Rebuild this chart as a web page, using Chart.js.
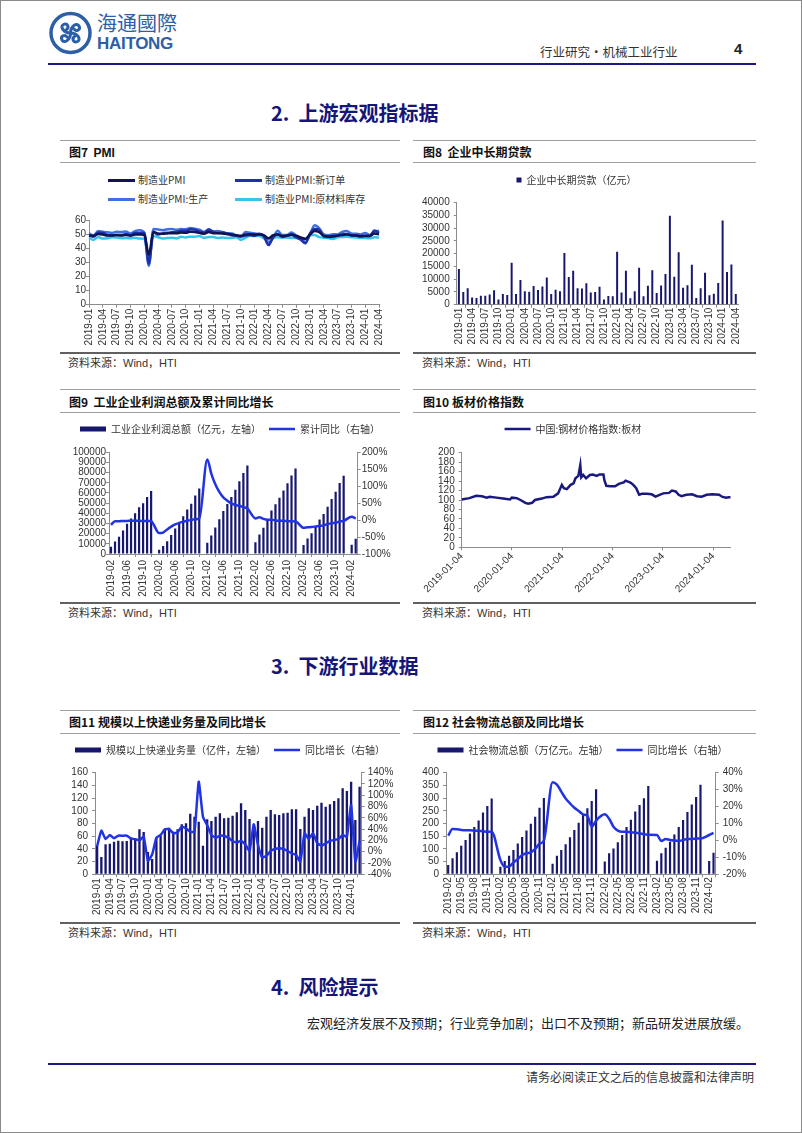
<!DOCTYPE html>
<html>
<head>
<meta charset="utf-8">
<title>行业研究·机械工业行业</title>
<script src="https://cdn.jsdelivr.net/npm/chart.js@4.4.1/dist/chart.umd.min.js"></script>
<style>
  body { margin: 0; background: #fff; }
  #page { position: relative; width: 802px; height: 1133px; overflow: hidden; background: #fff;
          font-family: "Noto Sans CJK SC", sans-serif; color: #222; }
  #frame { position: absolute; left: 0; top: 0; right: 0; bottom: 0; border: 1px solid #8a8a8a; pointer-events: none; }
  .a { position: absolute; white-space: nowrap; }
  .rule { position: absolute; }
  canvas { position: absolute; }
  .sec { font-size: 20px; font-weight: bold; color: #15157a; height: 24px; line-height: 24px; }
  .ttl { font-size: 12px; font-weight: bold; color: #111; height: 16px; line-height: 16px; }
  .ttl b { font-family: "Liberation Sans", Arial, sans-serif; }
  .src { font-size: 11px; color: #333; height: 14px; line-height: 14px; }
  .src span { font-family: "Liberation Sans", Arial, sans-serif; }
  .lg { font-size: 10px; color: #333; height: 12px; line-height: 12px; }
  .mk { position: absolute; height: 3px; }
</style>
</head>
<body>
<div id="page">

  <!-- header -->
  <svg class="a" style="left:48px;top:11px" width="45" height="44" viewBox="0 0 45 44">
    <circle cx="22.5" cy="22" r="19.5" fill="none" stroke="#2d5fa6" stroke-width="3.5"/>
    <g fill="none" stroke="#2d5fa6" stroke-width="3" stroke-linecap="round">
      <path d="M22.5 22 C22.5 15 29 11 31 15 C33 19 28 21 26 18"/>
      <path d="M22.5 22 C22.5 15 29 11 31 15 C33 19 28 21 26 18" transform="rotate(90 22.5 22)"/>
      <path d="M22.5 22 C22.5 15 29 11 31 15 C33 19 28 21 26 18" transform="rotate(180 22.5 22)"/>
      <path d="M22.5 22 C22.5 15 29 11 31 15 C33 19 28 21 26 18" transform="rotate(270 22.5 22)"/>
    </g>
  </svg>
  <div class="a" style="left:97px;top:11px;font-size:20px;line-height:24px;color:#2d5fa6;">海通國際</div>
  <div class="a" style="left:97px;top:34px;font:bold 17px/20px 'Liberation Sans',Arial,sans-serif;color:#2d5fa6;letter-spacing:-0.3px;">HAITONG</div>
  <div class="a" style="left:540px;top:44px;font-size:12.5px;line-height:16px;color:#333;">行业研究•机械工业行业</div>
  <div class="a" style="left:734px;top:40px;font:bold 15px/18px 'Liberation Sans',Arial,sans-serif;color:#222;">4</div>
  <div class="rule" style="left:48px;top:63px;width:708px;height:2px;background:#1c1c80;"></div>

  <div class="a sec" style="left:271px;top:101px;">2.&nbsp; 上游宏观指标据</div>

  <!-- row 1 frames -->
  <div class="rule" style="left:60px;top:140px;width:340px;height:1px;background:#a0a0a0;"></div>
  <div class="rule" style="left:413px;top:140px;width:343px;height:1px;background:#a0a0a0;"></div>
  <div class="a ttl" style="left:69px;top:144px;">图7&nbsp;&nbsp;<b>PMI</b></div>
  <div class="a ttl" style="left:423px;top:144px;">图8&nbsp;&nbsp;企业中长期贷款</div>
  <div class="rule" style="left:60px;top:162px;width:340px;height:1px;background:#a0a0a0;"></div>
  <div class="rule" style="left:413px;top:162px;width:343px;height:1px;background:#a0a0a0;"></div>
  <div class="rule" style="left:60px;top:352px;width:340px;height:2px;background:#606060;"></div>
  <div class="rule" style="left:413px;top:352px;width:343px;height:2px;background:#606060;"></div>
  <div class="a src" style="left:68px;top:355px;">资料来源：<span>Wind</span>，<span>HTI</span></div>
  <div class="a src" style="left:422px;top:355px;">资料来源：<span>Wind</span>，<span>HTI</span></div>

  <!-- PMI legend (two columns) -->
  <div class="mk" style="left:108px;top:178.5px;width:27px;background:#131352;"></div>
  <div class="a lg" style="left:138px;top:174px;">制造业PMI</div>
  <div class="mk" style="left:235px;top:178.5px;width:27px;background:#1f31a8;"></div>
  <div class="a lg" style="left:265px;top:174px;">制造业PMI:新订单</div>
  <div class="mk" style="left:108px;top:197.5px;width:27px;background:#3f6fe4;"></div>
  <div class="a lg" style="left:138px;top:193px;">制造业PMI:生产</div>
  <div class="mk" style="left:235px;top:197.5px;width:27px;background:#35c6ee;"></div>
  <div class="a lg" style="left:265px;top:193px;">制造业PMI:原材料库存</div>

  <canvas id="c7" width="330" height="184" style="left:62px;top:168px;"></canvas>
  <canvas id="c8" width="335" height="184" style="left:415px;top:168px;"></canvas>

  <!-- row 2 frames -->
  <div class="rule" style="left:60px;top:389px;width:340px;height:1px;background:#a0a0a0;"></div>
  <div class="rule" style="left:413px;top:389px;width:343px;height:1px;background:#a0a0a0;"></div>
  <div class="a ttl" style="left:69px;top:394px;">图9&nbsp;&nbsp;工业企业利润总额及累计同比增长</div>
  <div class="a ttl" style="left:423px;top:394px;">图10 板材价格指数</div>
  <div class="rule" style="left:60px;top:412px;width:340px;height:1px;background:#a0a0a0;"></div>
  <div class="rule" style="left:413px;top:412px;width:343px;height:1px;background:#a0a0a0;"></div>
  <div class="rule" style="left:60px;top:602px;width:340px;height:2px;background:#606060;"></div>
  <div class="rule" style="left:413px;top:602px;width:343px;height:2px;background:#606060;"></div>
  <div class="a src" style="left:68px;top:605px;">资料来源：<span>Wind</span>，<span>HTI</span></div>
  <div class="a src" style="left:422px;top:605px;">资料来源：<span>Wind</span>，<span>HTI</span></div>

  <canvas id="c9" width="336" height="184" style="left:62px;top:416px;"></canvas>
  <canvas id="c10" width="335" height="184" style="left:415px;top:416px;"></canvas>

  <div class="a sec" style="left:271px;top:654px;">3.&nbsp; 下游行业数据</div>

  <!-- row 3 frames -->
  <div class="rule" style="left:60px;top:710px;width:340px;height:1px;background:#a0a0a0;"></div>
  <div class="rule" style="left:413px;top:710px;width:343px;height:1px;background:#a0a0a0;"></div>
  <div class="a ttl" style="left:69px;top:714px;">图11 规模以上快递业务量及同比增长</div>
  <div class="a ttl" style="left:423px;top:714px;">图12 社会物流总额及同比增长</div>
  <div class="rule" style="left:60px;top:733px;width:340px;height:1px;background:#a0a0a0;"></div>
  <div class="rule" style="left:413px;top:733px;width:343px;height:1px;background:#a0a0a0;"></div>
  <div class="rule" style="left:60px;top:922px;width:340px;height:2px;background:#606060;"></div>
  <div class="rule" style="left:413px;top:922px;width:343px;height:2px;background:#606060;"></div>
  <div class="a src" style="left:68px;top:925px;">资料来源：<span>Wind</span>，<span>HTI</span></div>
  <div class="a src" style="left:422px;top:925px;">资料来源：<span>Wind</span>，<span>HTI</span></div>

  <canvas id="c11" width="336" height="183" style="left:62px;top:737px;"></canvas>
  <canvas id="c12" width="335" height="183" style="left:415px;top:737px;"></canvas>

  <div class="a sec" style="left:271px;top:975px;">4.&nbsp; 风险提示</div>
  <div class="a" style="right:53px;top:1014px;font-size:13px;line-height:18px;color:#222;">宏观经济发展不及预期；行业竞争加剧；出口不及预期；新品研发进展放缓。</div>

  <div class="rule" style="left:48px;top:1063px;width:708px;height:2px;background:#1c1c80;"></div>
  <div class="a" style="right:48px;top:1069px;font-size:12px;line-height:16px;color:#333;">请务必阅读正文之后的信息披露和法律声明</div>

  <div id="frame"></div>
</div>

<script>
// month labels like 2019-01
function months(y, m, n) {
  const out = [];
  for (let i = 0; i < n; i++) {
    const t = y * 12 + (m - 1) + i;
    out.push(Math.floor(t / 12) + "-" + String(t % 12 + 1).padStart(2, "0"));
  }
  return out;
}

// 图7 PMI
const pmiMonths = months(2019, 1, 64);
const pmi = [49.5,49.2,50.5,50.1,49.4,49.4,49.7,49.5,49.8,49.3,50.2,50.2,
  50.0,35.7,52.0,50.8,50.6,50.9,51.1,51.0,51.5,51.4,52.1,51.9,
  51.3,50.6,51.9,51.1,51.0,50.9,50.4,50.1,49.6,49.2,50.1,50.3,
  50.1,50.2,49.5,47.4,49.6,50.2,49.0,49.4,50.1,49.2,48.0,47.0,
  50.1,52.6,51.9,49.2,48.8,49.0,49.3,49.7,50.2,49.5,49.4,49.0,
  49.2,49.1,50.8,50.4];
const pmiNewOrders = [49.6,48.6,51.6,51.4,49.8,49.6,49.8,49.7,50.5,49.6,51.3,51.2,
  51.4,29.3,52.0,50.2,50.9,51.4,51.7,52.0,52.8,52.8,53.9,53.6,
  52.3,51.5,53.6,52.0,51.3,51.5,50.9,49.6,49.3,48.8,49.4,49.7,
  49.3,50.7,48.8,42.6,48.2,50.4,48.5,49.2,49.8,48.1,46.4,43.9,
  50.9,54.1,53.6,48.8,48.3,48.6,49.5,50.2,50.5,49.5,49.4,48.7,
  49.0,49.0,53.0,51.1];
const pmiProduction = [50.9,49.5,52.7,52.1,51.7,51.3,52.1,51.9,52.3,50.8,52.6,53.2,
  51.3,27.8,54.1,53.7,53.2,53.9,54.0,53.5,54.0,53.9,54.7,54.2,
  53.5,51.9,53.9,52.2,52.7,51.9,51.0,50.9,49.5,48.4,52.0,51.4,
  50.9,50.4,49.5,44.4,47.7,52.8,49.8,49.8,51.5,49.6,47.8,44.6,
  49.8,56.7,54.6,50.2,49.6,50.3,50.2,51.9,52.7,50.9,50.7,50.2,
  51.3,49.8,52.2,52.9];
const pmiInventory = [48.1,46.3,48.4,47.2,47.4,48.2,48.0,47.5,47.6,47.4,47.8,47.2,
  47.1,32.9,49.0,48.2,47.3,47.6,47.9,47.3,48.5,48.0,48.6,48.6,
  49.0,47.7,48.4,48.3,47.7,48.0,47.7,47.7,48.2,46.3,47.7,49.2,
  49.1,49.1,47.3,46.5,47.9,48.1,47.9,48.0,47.6,47.7,46.7,47.1,
  49.6,49.8,48.3,47.9,47.6,47.0,48.2,48.4,48.5,48.2,48.0,47.7,
  47.6,47.4,48.1,47.8];

// 图8 企业中长期贷款（亿元）
const loanMonths = months(2019, 1, 64);
const loans = [14000,5000,6500,2800,2600,3500,3500,4000,5700,2000,4200,3800,
  16500,4200,9700,5300,5100,7300,5800,7100,10700,4200,5900,5300,
  20300,10900,13300,6500,6400,8400,4800,5000,7000,2000,3400,3300,
  20800,4800,13300,2500,5300,14500,3300,7400,13500,4600,7500,12000,
  34900,11000,20600,6600,7600,15700,2600,6500,12500,3700,4300,8500,
  33000,12800,15800,4200];

// 图9 工业企业利润总额（亿元）与累计同比（%）
const profitMonths = months(2019, 2, 62);
const profits = [7080,12185,16900,23000,29840,34835,40140,45933,50020,56100,61996,
  null,4107,7814,12654,18737,25115,31022,37168,43665,49522,57445,64516,
  null,11140,18253,25944,34247,42183,49239,56051,63190,71649,79750,87092,
  null,11575,19143,25750,34410,42703,48930,55254,62442,69469,77180,84039,
  null,8872,15167,20328,26688,33884,39439,46558,54119,61154,69822,76858,
  null,9141,15056];
const profitYoy = [-14.0,-3.3,-3.4,-2.3,-2.4,-1.7,-1.7,-2.1,-2.9,-2.1,-3.3,
  null,-38.3,-36.7,-27.4,-19.3,-12.8,-8.1,-4.4,-2.4,0.7,2.4,4.1,
  null,178.9,137.3,106.0,83.4,66.9,57.3,49.5,44.7,42.2,38.0,34.3,
  null,5.0,8.5,3.5,1.0,1.0,-1.1,-2.1,-2.3,-3.0,-3.6,-4.0,
  null,-22.9,-21.4,-20.6,-18.8,-16.8,-15.5,-11.7,-9.0,-7.8,-4.4,-2.3,
  null,10.2,4.3];

// 图10 中国:钢材价格指数:板材
const steelDates = ["2019-01-04","2019-03-01","2019-04-19","2019-05-31","2019-07-05","2019-07-26","2019-09-13","2019-11-01","2019-12-20",
  "2020-01-03","2020-02-07","2020-03-06","2020-04-10","2020-05-01","2020-05-29","2020-06-19","2020-08-07","2020-09-11","2020-10-30","2020-12-04","2020-12-31",
  "2021-01-15","2021-02-05","2021-03-05","2021-03-26","2021-04-09","2021-04-30","2021-05-14","2021-05-21","2021-06-04","2021-06-25","2021-07-23","2021-08-13",
  "2021-09-10","2021-10-01","2021-10-29","2021-11-05","2021-11-19","2021-12-17",
  "2022-01-21","2022-02-18","2022-03-25","2022-04-08","2022-05-13","2022-06-03","2022-06-24","2022-07-15","2022-08-05","2022-09-09","2022-10-14","2022-11-11","2022-12-02",
  "2023-01-06","2023-02-17","2023-03-10","2023-04-07","2023-04-28","2023-05-19","2023-06-23","2023-08-04","2023-09-08","2023-10-13","2023-11-17","2023-12-29",
  "2024-02-16","2024-03-08","2024-04-05","2024-04-26","2024-05-10"];
const steelIndex = [101,104,109,108,105,107,105,103,101,
  105,104,100,94,92,94,100,103,106,107,114,132,
  125,123,132,135,146,151,174,148,153,146,153,154,
  151,154,154,142,130,129,
  129,134,137,141,137,132,125,111,113,113,112,107,110,
  114,115,120,118,111,108,111,112,108,107,111,112,
  111,107,105,106,106];
const steelTicks = ["2019-01-04","2020-01-04","2021-01-04","2022-01-04","2023-01-04","2024-01-04"];

// 图11 规模以上快递业务量（亿件）与同比（%）
const expressMonths = months(2019, 1, 63);
const express = [44.6,27.3,47.2,48.3,51.4,53,52,52.5,55.6,55,70.8,66.6,
  35,24,57.7,60.9,71.4,73.5,67.2,70.8,78.7,80.3,95.5,90.8,
  82.9,45.1,86.6,84,90.8,96,88.1,89.2,92.3,97.6,111.8,101.3,
  87.1,78.7,84,73.5,90.8,101.3,94.4,93.4,96,97,102.3,102.3,
  71.4,90.8,103.9,101.3,108.1,112.8,106.5,110.2,115.4,119.6,135.4,131.2,
  145.9,85.5,138];
const expressYoy = [10,37.3,22.5,29.6,23.7,28.4,28.4,28.4,23.7,22,20.2,26.7,
  -16,-5,24.9,29.6,39.6,40.2,32.6,34.3,44.4,41.4,35.5,35.5,
  124,62,47,29.6,25,28.4,27.8,24.9,19,16.6,19,13,
  1.3,48.5,12,-10.5,-7,1.3,4.8,6,4.8,1.3,-2.9,-5.8,
  -17.6,32.6,22.5,32.6,15,10.7,15,19,20.8,22.5,29.6,26.7,
  82.7,-17.6,19];

// 图12 社会物流总额（万亿元）与同比（%）
const logisticsMonths = months(2019, 2, 62);
const logistics = [37,63,87,112,135,161,186,212,243,269,298,
  null,30,52.5,73.5,96,121,147,172,199,227,262,300,
  null,42,73.5,96,118,146,174,203,233,260,289,335,
  null,50,82.6,102,126,155,186,215,247,273,299,347.6,
  null,53,82.6,105,128.5,157,186,214,245,275,304,352.4,
  null,52.5,85];
const logisticsYoy = [2.8,6.8,6.6,6.2,6.0,6.0,5.8,5.6,5.4,5.2,5.2,
  null,-11.5,-15.5,-15.5,-13,-11,-8.6,-7.6,-7,-5,-2,0,
  null,34.3,33,28.8,24.8,21.9,19.3,17.4,15.4,14.6,8.1,11.7,
  null,15.4,12.8,8.1,5.8,5.2,5.2,4.8,4.6,4.2,3.6,3.4,
  null,3.2,-0.3,0.9,0.3,-0.1,-0.3,0.3,0.9,0.9,1.2,1.2,
  null,3.2,4.4];

const NAVY = "#17176e";
const BLUE = "#2233e4";
const CJK = "'Noto Sans CJK SC', sans-serif";

Chart.defaults.font.family = "'Liberation Sans', Arial, 'Noto Sans CJK SC', sans-serif";
Chart.defaults.font.size = 10;
Chart.defaults.color = "#333";
Chart.defaults.animation = false;
Chart.defaults.responsive = false;
Chart.defaults.plugins.legend.display = false;

// keep the legend box at a fixed height so the plot lands where the picture has it
function legendHeight(h) {
  return {
    id: "legendHeight",
    beforeLayout(chart) {
      const lg = chart.legend;
      if (lg && !lg.fixedFit) {
        const fit = lg.fit;
        lg.fit = function () { fit.call(this); this.height = h; };
        lg.fixedFit = true;
      }
    }
  };
}

function legend(pad, w, h) {
  return {
    display: true,
    position: "top",
    labels: {
      usePointStyle: true, pointStyleWidth: w, boxHeight: h || 5, padding: pad,
      font: { family: CJK, size: 10 }, color: "#333",
      sort: (a, b) => a.datasetIndex - b.datasetIndex
    }
  };
}

function yAxis(min, max, step, width, pos, pad, fmt) {
  return {
    position: pos, min, max,
    ticks: { stepSize: step, autoSkip: false, padding: pad, font: { size: 10 }, color: "#333",
             callback: fmt || (v => String(v)) },
    grid: { drawOnChartArea: false, drawTicks: true, tickLength: 3, color: "#8c8c8c" },
    border: { color: "#8c8c8c" },
    afterFit: s => { s.width = width; }
  };
}

function xCat(every, height, pad) {
  return {
    ticks: { autoSkip: false, minRotation: 90, maxRotation: 90, padding: pad, font: { size: 10 }, color: "#333" },
    grid: { drawOnChartArea: false, drawTicks: true, tickLength: 3, color: "#8c8c8c" },
    border: { color: "#8c8c8c" },
    afterBuildTicks: axis => { axis.ticks = axis.ticks.filter(t => t.value % every === 0); },
    afterFit: s => { s.height = height; }
  };
}

function lineSet(label, data, color, extra) {
  return Object.assign({
    type: "line", label, data,
    borderColor: color, backgroundColor: color, borderWidth: 2.5,
    pointRadius: 0, pointHoverRadius: 0, pointStyle: "line",
    pointBorderColor: color, pointBorderWidth: 2.5
  }, extra || {});
}

function barSet(label, data, pct) {
  return {
    type: "bar", label, data, backgroundColor: NAVY, borderWidth: 0,
    pointStyle: "rect", barPercentage: pct, categoryPercentage: 1, order: 2
  };
}

const pct = v => v + "%";
const day = d => Date.parse(d) / 86400000;

// 图7
new Chart(document.getElementById("c7"), {
  type: "line",
  data: {
    labels: pmiMonths,
    datasets: [
      lineSet("制造业PMI", pmi, "#131352", { cubicInterpolationMode: "monotone" }),
      lineSet("制造业PMI:新订单", pmiNewOrders, "#1f31a8", { cubicInterpolationMode: "monotone" }),
      lineSet("制造业PMI:生产", pmiProduction, "#3f6fe4", { cubicInterpolationMode: "monotone" }),
      lineSet("制造业PMI:原材料库存", pmiInventory, "#35c6ee", { cubicInterpolationMode: "monotone" })
    ]
  },
  options: {
    layout: { padding: { top: 52.7, right: 7, left: 0, bottom: 0 } },
    scales: { x: xCat(3, 47.3, 1), y: yAxis(0, 60, 10, 27, "left", 0) }
  }
});

// 图8
new Chart(document.getElementById("c8"), {
  type: "bar",
  data: { labels: loanMonths, datasets: [barSet("企业中长期贷款（亿元）", loans, 0.45)] },
  options: {
    layout: { padding: { top: 0, right: 12, left: 0, bottom: 0 } },
    plugins: { legend: legend(7, 5, 5) },
    scales: { x: xCat(3, 47.3, 0), y: yAxis(0, 40000, 5000, 41.7, "left", 4) }
  },
  plugins: [legendHeight(34.7)]
});

// 图9
new Chart(document.getElementById("c9"), {
  type: "bar",
  data: {
    labels: profitMonths,
    datasets: [
      barSet("工业企业利润总额（亿元，左轴）", profits, 0.55),
      lineSet("累计同比（右轴）", profitYoy, BLUE, { yAxisID: "y1", spanGaps: true, cubicInterpolationMode: "monotone", order: 1 })
    ]
  },
  options: {
    layout: { padding: { top: 0, right: 0, left: 0, bottom: 0 } },
    plugins: { legend: legend(8, 26, 5) },
    scales: {
      x: xCat(4, 46, 3),
      y: yAxis(0, 100000, 10000, 47, "left", 0),
      y1: yAxis(-100, 200, 50, 40.3, "right", 1, pct)
    }
  },
  plugins: [legendHeight(36.3)]
});

// 图10
const steelX = {
  type: "linear", min: day("2019-01-04"), max: day("2024-05-10"),
  ticks: { autoSkip: false, minRotation: 45, maxRotation: 45, padding: 0, font: { size: 10 }, color: "#333",
           callback: v => new Date(v * 86400000).toISOString().slice(0, 10) },
  grid: { drawOnChartArea: false, drawTicks: true, tickLength: 3, color: "#8c8c8c" },
  border: { color: "#8c8c8c" },
  afterBuildTicks: axis => { axis.ticks = steelTicks.map(d => ({ value: day(d) })); },
  afterFit: s => { s.height = 52.7; }
};
new Chart(document.getElementById("c10"), {
  type: "line",
  data: {
    datasets: [lineSet("中国:钢材价格指数:板材", steelDates.map((d, i) => ({ x: day(d), y: steelIndex[i] })), "#1a1a7e")]
  },
  options: {
    layout: { padding: { top: 0, right: 19.3, left: 0, bottom: 0 } },
    plugins: { legend: legend(8, 26, 5) },
    scales: { x: steelX, y: yAxis(0, 200, 20, 46.7, "left", 4) }
  },
  plugins: [legendHeight(36.7)]
});

// 图11
new Chart(document.getElementById("c11"), {
  type: "bar",
  data: {
    labels: expressMonths,
    datasets: [
      barSet("规模以上快递业务量（亿件，左轴）", express, 0.55),
      lineSet("同比增长（右轴）", expressYoy, BLUE, { yAxisID: "y1", tension: 0.15, order: 1 })
    ]
  },
  options: {
    layout: { padding: { top: 0, right: 0, left: 0, bottom: 0 } },
    plugins: { legend: legend(8, 26, 5) },
    scales: {
      x: xCat(3, 45.7, 1),
      y: yAxis(0, 160, 20, 33, "left", 4),
      y1: yAxis(-40, 140, 20, 36.3, "right", 3, pct)
    }
  },
  plugins: [legendHeight(35.7)]
});

// 图12
new Chart(document.getElementById("c12"), {
  type: "bar",
  data: {
    labels: logisticsMonths,
    datasets: [
      barSet("社会物流总额（万亿元。左轴）", logistics, 0.5),
      lineSet("同比增长（右轴）", logisticsYoy, BLUE, { yAxisID: "y1", spanGaps: true, cubicInterpolationMode: "monotone", order: 1 })
    ]
  },
  options: {
    layout: { padding: { top: 0, right: 0, left: 0, bottom: 0 } },
    plugins: { legend: legend(8, 26, 5) },
    scales: {
      x: xCat(3, 45.7, 0),
      y: yAxis(0, 400, 50, 31, "left", 4),
      y1: yAxis(-20, 40, 10, 34.3, "right", 4, pct)
    }
  },
  plugins: [legendHeight(35.7)]
});
</script>
</body>
</html>
